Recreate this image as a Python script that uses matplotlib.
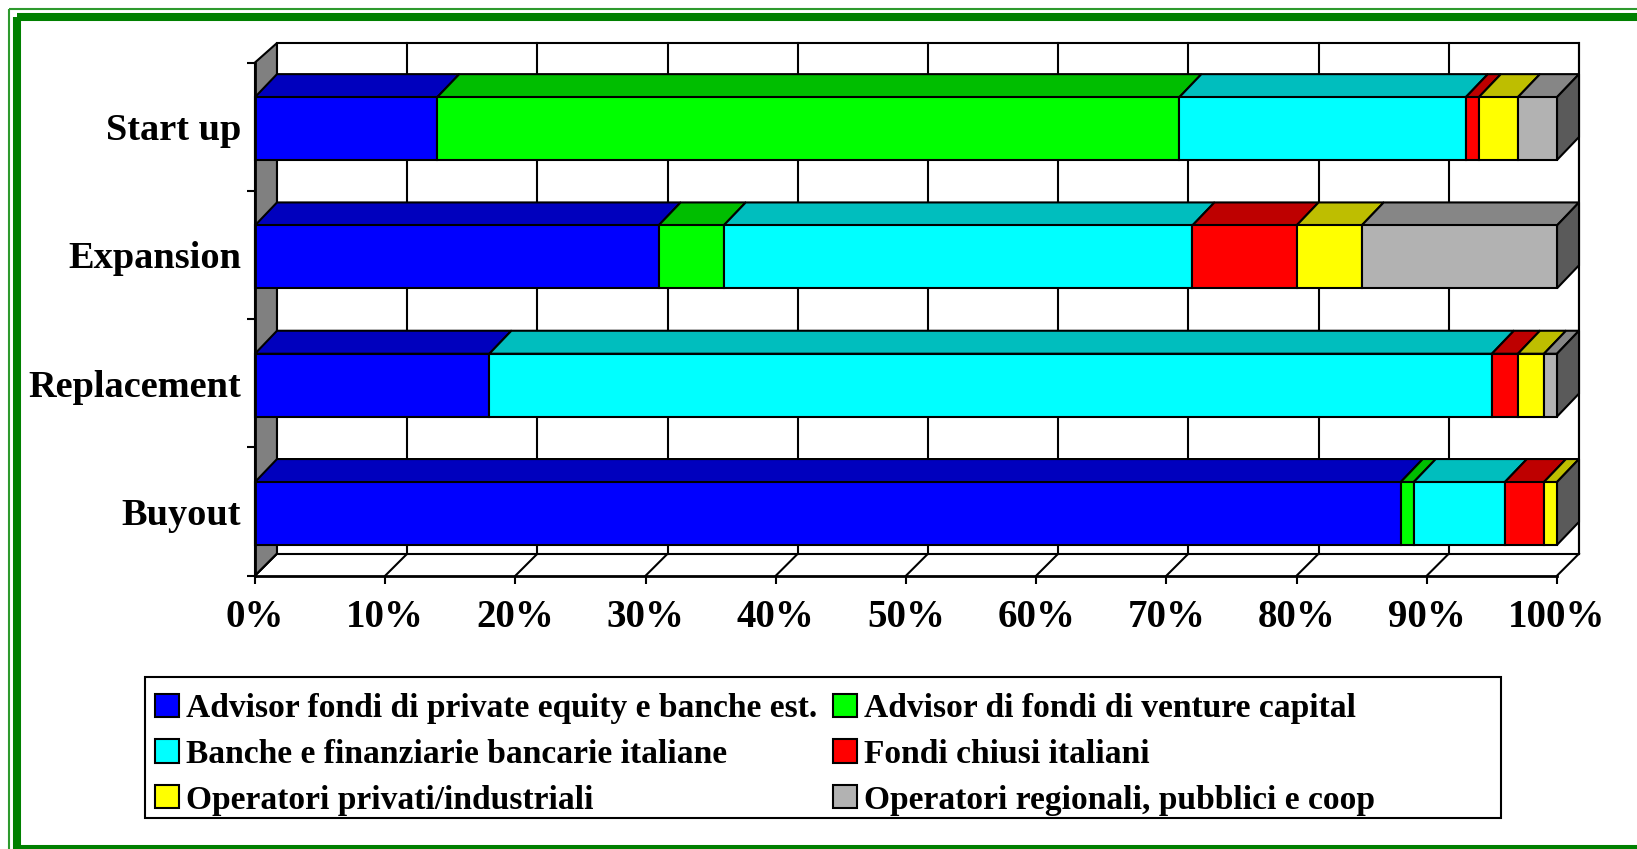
import matplotlib
matplotlib.use("Agg")
import matplotlib.pyplot as plt
from matplotlib.patches import Polygon, Rectangle

categories = ["Buyout", "Replacement", "Expansion", "Start up"]
series_names = ["Advisor fondi di private equity e banche est.",
                "Advisor di fondi di venture capital",
                "Banche e finanziarie bancarie italiane",
                "Fondi chiusi italiani",
                "Operatori privati/industriali",
                "Operatori regionali, pubblici e coop"]
advisor_pe = [88, 18, 31, 14]
advisor_vc = [1, 0, 5, 57]
banche = [7, 77, 36, 22]
fondi = [3, 2, 8, 1]
operatori_priv = [1, 2, 5, 3]
operatori_reg = [0, 1, 15, 3]
all_series = [advisor_pe, advisor_vc, banche, fondi, operatori_priv, operatori_reg]
x_ticks = [0, 10, 20, 30, 40, 50, 60, 70, 80, 90, 100]

front_colors = ["#0000FF", "#00FF00", "#00FFFF", "#FF0000", "#FFFF00", "#B2B2B2"]
top_colors = ["#0000BE", "#00BE00", "#00BEBE", "#BE0000", "#BEBE00", "#868686"]
side_color = "#5A5A5A"
serif = "Liberation Serif"

W, H = 1637, 849
fig = plt.figure(figsize=(W / 100, H / 100), dpi=100, facecolor="white")

# decorative double green frame and the legend box
frame = fig.add_axes([0, 0, 1, 1], zorder=0)
frame.set_xlim(0, W); frame.set_ylim(H, 0); frame.axis("off")
green = "#008000"
frame.add_patch(Rectangle((9, 9), W + 20, H + 20, fill=False, ec="#2E9A2E", lw=1.5))
frame.add_patch(Rectangle((17, 17), W + 20, 832, fill=False, ec=green, lw=5.8))
frame.add_patch(Rectangle((144.5, 677), 1356.5, 141, fc="white", ec="black", lw=1.5))

# axes = the front plane of the 3D plot
x0, x1, y_top, y_bot = 255, 1557, 62.5, 575.7
ax = fig.add_axes([x0 / W, 1 - y_bot / H, (x1 - x0) / W, (y_bot - y_top) / H], zorder=1)
ax.set_xlim(0, 100); ax.set_ylim(-0.5, 3.5)
ax.patch.set_visible(False)
dx = 22 / (x1 - x0) * 100
dy = 22 / (y_bot - y_top) * 4
dy_bar = 23 / (y_bot - y_top) * 4
dy_wall_top = 19.5 / (y_bot - y_top) * 4
lw = 1.5
ylo, yhi = -0.5, 3.5

def poly(points, fc, z, ec="black", w=lw):
    ax.add_patch(Polygon(points, closed=True, fc=fc, ec=ec, lw=w, zorder=z,
                         clip_on=False, joinstyle="miter"))

# walls and floor
poly([(0, ylo), (dx, ylo + dy), (dx, yhi + dy_wall_top), (0, yhi)], "#808080", 1)
poly([(dx, ylo + dy), (100 + dx, ylo + dy), (100 + dx, yhi + dy_wall_top), (dx, yhi + dy_wall_top)], "white", 1)
for t in x_ticks:
    if t > 0:
        ax.plot([t + dx, t + dx], [ylo + dy, yhi + dy_wall_top], color="black", lw=lw, zorder=2, clip_on=False)
    ax.plot([t, t + dx], [ylo, ylo + dy], color="black", lw=lw, zorder=2, clip_on=False)

# bars, back to front
bar_h = 0.49
shift = 0.015
z = 3
for i in range(len(categories) - 1, -1, -1):
    yb = i - bar_h / 2 - shift
    yt = i + bar_h / 2 - shift
    left = 0
    for s, vals in enumerate(all_series):
        v = vals[i]
        if v > 0:
            poly([(left, yt), (left + dx, yt + dy_bar), (left + v + dx, yt + dy_bar), (left + v, yt)],
                 top_colors[s], z)
            ax.add_patch(Rectangle((left, yb), v, yt - yb, fc=front_colors[s], ec="black",
                                   lw=lw, zorder=z + 1, clip_on=False))
        left += v
    poly([(100, yb), (100 + dx, yb + dy_bar), (100 + dx, yt + dy_bar), (100, yt)], side_color, z)
    z += 2

# ticks and labels
for sp in ("top", "right"):
    ax.spines[sp].set_visible(False)
for sp in ("left", "bottom"):
    ax.spines[sp].set_linewidth(2)
    ax.spines[sp].set_zorder(30)
ax.set_xticks(x_ticks)
ax.set_xticklabels([f"{t}%" for t in x_ticks], family=serif, weight="bold", fontsize=28)
ax.tick_params(axis="x", length=6, width=lw, pad=10.7)
ax.set_yticks([-0.5, 0.5, 1.5, 2.5, 3.5])
ax.set_yticklabels([])
ax.set_yticks(range(4), minor=True)
ax.set_yticklabels(categories, minor=True, family=serif, weight="bold", fontsize=27.6)
ax.tick_params(axis="y", which="major", length=6, width=lw)
ax.tick_params(axis="y", which="minor", length=0, pad=10)

# legend, filled row by row
order = [0, 2, 4, 1, 3, 5]
handles = [Rectangle((0, 0), 1, 1, fc=front_colors[k], ec="black", lw=1.5) for k in order]
leg = fig.legend(handles, [series_names[k] for k in order], ncol=2,
                 loc="upper left", bbox_to_anchor=(139 / W, 1 - 677 / H),
                 prop={"family": serif, "weight": "bold", "size": 24.1},
                 frameon=False, borderaxespad=0, borderpad=0.48, labelspacing=0.44,
                 handlelength=0.72, handleheight=0.69, handletextpad=0.21, columnspacing=0.46)

fig.savefig("out.png", dpi=100)
